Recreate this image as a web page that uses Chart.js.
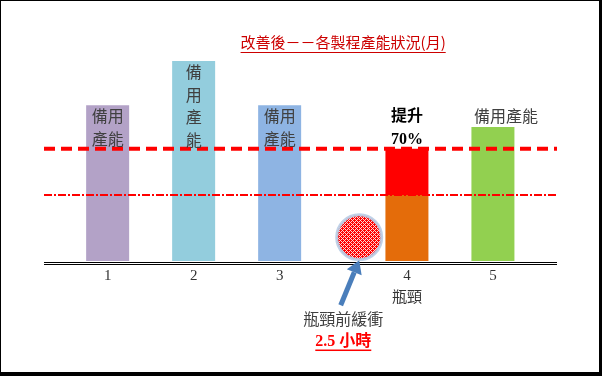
<!DOCTYPE html>
<html>
<head>
<meta charset="utf-8">
<script src="https://cdn.jsdelivr.net/npm/chart.js@4.4.0/dist/chart.umd.min.js"></script>
<style>
    html, body { margin: 0; padding: 0; background: #fff; }
    #wrap { position: relative; width: 602px; height: 376px; }
    #chart { display: block; }
    #frame {
        position: absolute; left: 0; top: 0; width: 602px; height: 376px;
        box-sizing: border-box; border: solid #000; border-width: 1px 3px 4px 1px;
        pointer-events: none;
    }
</style>
</head>
<body>
<div id="wrap">
    <canvas id="chart" width="602" height="376"></canvas>
    <div id="frame"></div>
</div>
<script>
// ================== Data ==================
const stageLabels = ['1', '2', '3', ['4', '瓶頸'], '5'];
const stageX = [1, 2, 3, 4.48, 5.48];          // 4 and 5 pushed right to leave room for the buffer
const capacity = [236, 303, 236, 100, 203];
const improved = [0, 0, 0, 170, 0];            // bottleneck after improvement (+70%)
const barColors = ['#b3a2c7', '#93cddd', '#8eb4e3', '#e46c0a', '#92d050'];
const barNotes = [['備用', '產能'], ['備', '用', '產', '能'], ['備用', '產能'], ['提升', '70%'], ['備用產能']];
const bottleneckLevel = 100;
const improvedLevel = 170;
const bufferPoint = [{ x: 3.925, y: 36 }];
const titleText = '改善後－－各製程產能狀況(月)';
const bufferText = '瓶頸前緩衝';
const bufferHours = '2.5 小時';

const xMin = 0.26, xMax = 6.225;

// ================== Pattern for the buffer circle ==================
function dotPattern() {
    const c = document.createElement('canvas');
    c.width = 4; c.height = 4;
    const g = c.getContext('2d');
    g.fillStyle = '#ff0000';
    g.fillRect(0, 0, 4, 4);
    g.fillStyle = '#ffd8d8';
    // diagonal mesh
    for (let a = 0; a < 4; a++) {
        for (let b = 0; b < 4; b++) {
            if ((a + b) % 4 === 0 || (a - b + 4) % 4 === 0) g.fillRect(a, b, 1, 1);
        }
    }
    return g.createPattern(c, 'repeat');
}

// ================== Notes, arrow, baseline ==================
const notesPlugin = {
    id: 'notes',
    afterDatasetsDraw(chart) {
        const { ctx, chartArea } = chart;
        const xs = chart.scales.x, ys = chart.scales.y;
        const font = "'Liberation Serif', 'Noto Sans CJK TC'";

        // double baseline
        const y0 = Math.round(ys.getPixelForValue(0));
        ctx.save();
        ctx.fillStyle = '#000';
        ctx.fillRect(chartArea.left, y0 + 1, chartArea.right - chartArea.left, 1);
        ctx.fillRect(chartArea.left, y0 + 3, chartArea.right - chartArea.left, 1);
        ctx.restore();

        // bar notes
        const lh = 22.5;
        barNotes.forEach((lines, i) => {
            const top = ys.getPixelForValue(Math.max(capacity[i], improved[i]));
            const inside = i < 3;
            const bold = improved[i] > 0;
            const x = xs.getPixelForValue(stageX[i]) + (i === 4 ? 13 : 0);
            const start = inside ? top + 13 : top - 9 - (lines.length - 1) * lh;
            ctx.save();
            ctx.font = (bold ? 'bold ' : '') + '16px ' + font;
            ctx.fillStyle = bold ? '#000' : '#404040';
            ctx.textAlign = 'center';
            ctx.textBaseline = 'middle';
            lines.forEach((t, k) => ctx.fillText(t, x, start + k * lh));
            ctx.restore();
        });

        // arrow to the buffer
        const pt = chart.getDatasetMeta(4).data[0];
        const tipX = pt.x, tipY = pt.y + 23;
        const tailX = xs.getPixelForValue(3.71), tailY = ys.getPixelForValue(-67);
        const ang = Math.atan2(tipY - tailY, tipX - tailX);
        const headLen = 13, headW = 8;
        const baseX = tipX - headLen * Math.cos(ang), baseY = tipY - headLen * Math.sin(ang);
        ctx.save();
        ctx.strokeStyle = '#4a7ebb';
        ctx.fillStyle = '#4a7ebb';
        ctx.lineWidth = 5;
        ctx.beginPath();
        ctx.moveTo(tailX, tailY);
        ctx.lineTo(baseX, baseY);
        ctx.stroke();
        ctx.beginPath();
        ctx.moveTo(tipX, tipY);
        ctx.lineTo(baseX + headW * Math.sin(ang), baseY - headW * Math.cos(ang));
        ctx.lineTo(baseX - headW * Math.sin(ang), baseY + headW * Math.cos(ang));
        ctx.closePath();
        ctx.fill();
        ctx.restore();

        // buffer texts
        const tx = xs.getPixelForValue(3.74);
        ctx.save();
        ctx.textAlign = 'center';
        ctx.textBaseline = 'middle';
        ctx.font = '16px ' + font;
        ctx.fillStyle = '#404040';
        ctx.fillText(bufferText, tx, ys.getPixelForValue(-91));
        ctx.font = 'bold 16px ' + font;
        ctx.fillStyle = '#ff0000';
        const hy = ys.getPixelForValue(-122);
        ctx.fillText(bufferHours, tx, hy);
        const w = ctx.measureText(bufferHours).width;
        ctx.fillRect(tx - w / 2, hy + 8, w, 1.5);
        ctx.restore();

        // title
        ctx.save();
        ctx.font = "15px 'Noto Sans CJK TC'";
        ctx.fillStyle = '#cc0000';
        ctx.textAlign = 'center';
        ctx.textBaseline = 'middle';
        const cx = chart.width * 0.57;
        ctx.fillText(titleText, cx, 42);
        const tw = ctx.measureText(titleText).width;
        ctx.fillRect(cx - tw / 2, 52, tw, 1);
        ctx.restore();
    }
};

// ================== Chart ==================
const ctx = document.getElementById('chart').getContext('2d');

new Chart(ctx, {
    type: 'bar',
    data: {
        datasets: [
            {
                label: '產能',
                data: stageX.map((x, i) => ({ x, y: capacity[i] })),
                backgroundColor: barColors,
                grouped: false,
                order: 2
            },
            {
                label: '提升',
                data: stageX.map((x, i) => ({ x, y: [capacity[i], improved[i]] })).filter(d => d.y[1] > d.y[0]),
                backgroundColor: '#ff0000',
                grouped: false,
                order: 2
            },
            {
                type: 'line',
                label: '改善後',
                data: [{ x: xMin, y: improvedLevel }, { x: xMax, y: improvedLevel }],
                borderColor: '#ff0000',
                borderWidth: 4,
                borderDash: [11, 6],
                pointRadius: 0,
                order: 0
            },
            {
                type: 'line',
                label: '瓶頸',
                data: [{ x: xMin, y: bottleneckLevel }, { x: xMax, y: bottleneckLevel }],
                borderColor: '#ff0000',
                borderWidth: 2,
                borderDash: [8, 2, 2, 2],
                pointRadius: 0,
                order: 0
            },
            {
                type: 'scatter',
                label: '緩衝',
                data: bufferPoint,
                backgroundColor: dotPattern(),
                borderColor: 'rgba(185, 205, 229, 0.9)',
                borderWidth: 3,
                pointRadius: 22.5,
                order: 1
            }
        ]
    },
    options: {
        responsive: false,
        animation: false,
        layout: { padding: { left: 44, right: 45, top: 30, bottom: 63 } },
        datasets: { bar: { barPercentage: 0.5, categoryPercentage: 1 } },
        plugins: { legend: { display: false }, tooltip: { enabled: false } },
        scales: {
            x: {
                type: 'linear',
                offset: false,
                min: xMin,
                max: xMax,
                afterBuildTicks: axis => { axis.ticks = stageX.map(v => ({ value: v })); },
                grid: { display: false, drawTicks: false, offset: false },
                border: { display: false },
                ticks: {
                    padding: 4,
                    color: '#333',
                    font: { family: "'Liberation Serif', 'Noto Sans CJK TC'", size: 15, lineHeight: '22px' },
                    callback: (value, index) => stageLabels[index]
                }
            },
            y: {
                display: false,
                min: 0,
                max: 350
            }
        }
    },
    plugins: [notesPlugin]
});
</script>
</body>
</html>
